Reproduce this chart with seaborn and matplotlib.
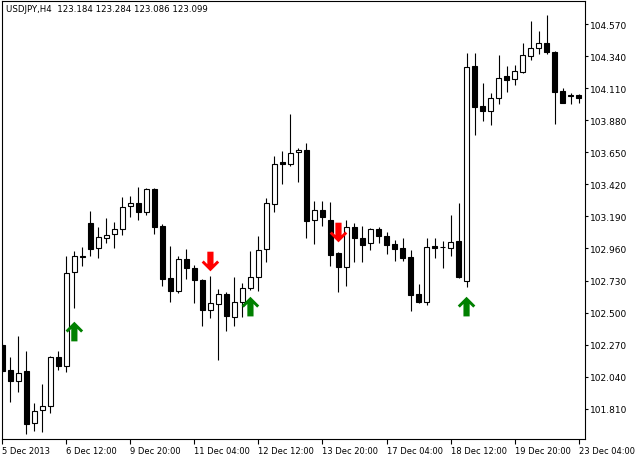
import matplotlib
matplotlib.use('Agg')
import numpy as np
import pandas as pd
import matplotlib.pyplot as plt
import seaborn as sns
from matplotlib.path import Path

# USDJPY H4 candles
opens = [102.267, 102.088, 102.009, 102.081, 101.708, 101.801, 101.830, 102.181, 102.117, 102.791,
         102.906, 103.142, 102.963, 103.035, 103.064, 103.099, 103.264, 103.286, 103.221, 103.386,
         103.121, 102.748, 102.655, 102.884, 102.820, 102.734, 102.518, 102.561, 102.633, 102.468,
         102.576, 102.676, 102.755, 102.956, 103.279, 103.580, 103.566, 103.652, 103.666, 103.164,
         103.236, 103.164, 102.927, 102.827, 103.114, 103.035, 102.999, 103.099, 103.049, 102.992,
         102.963, 102.899, 102.633, 102.576, 102.975, 102.970, 102.963, 103.013, 102.726, 104.269,
         103.982, 103.946, 104.039, 104.197, 104.176, 104.226, 104.341, 104.398, 104.434, 104.369,
         104.089, 104.061, 104.061]
highs = [102.282, 102.181, 102.332, 102.224, 101.851, 101.987, 102.188, 102.224, 102.906, 102.942,
         102.970, 103.229, 103.114, 103.178, 103.150, 103.329, 103.336, 103.401, 103.394, 103.394,
         103.135, 102.977, 102.906, 102.956, 102.841, 102.741, 102.762, 102.669, 102.647, 102.755,
         102.712, 102.942, 103.049, 103.322, 103.623, 103.659, 103.924, 103.681, 103.716, 103.300,
         103.300, 103.293, 102.934, 103.164, 103.142, 103.121, 103.107, 103.114, 103.078, 103.021,
         103.035, 102.949, 102.705, 103.035, 103.035, 103.013, 103.200, 103.286, 104.362, 104.362,
         104.147, 104.075, 104.348, 104.269, 104.276, 104.434, 104.592, 104.520, 104.635, 104.376,
         104.111, 104.075, 104.068]
lows = [102.066, 101.858, 101.930, 101.629, 101.650, 101.643, 101.779, 102.088, 102.074, 102.533,
        102.834, 102.906, 102.891, 102.999, 102.963, 103.056, 103.186, 103.164, 103.200, 103.064,
        102.690, 102.576, 102.640, 102.741, 102.569, 102.404, 102.461, 102.160, 102.368, 102.404,
        102.468, 102.662, 102.655, 102.863, 103.221, 103.422, 103.551, 103.437, 103.035, 102.992,
        103.121, 102.834, 102.647, 102.690, 102.863, 102.863, 102.949, 102.999, 102.920, 102.870,
        102.870, 102.511, 102.570, 102.554, 102.891, 102.820, 102.906, 102.750, 102.683, 103.774,
        103.874, 103.846, 103.996, 104.082, 104.132, 104.219, 104.312, 104.355, 104.355, 103.853,
        104.000, 103.996, 104.003]
closes = [102.081, 102.009, 102.066, 101.700, 101.794, 101.830, 102.181, 102.117, 102.784, 102.906,
          102.895, 102.956, 103.042, 103.056, 103.099, 103.257, 103.286, 103.221, 103.386, 103.114,
          102.741, 102.655, 102.884, 102.820, 102.734, 102.518, 102.569, 102.633, 102.475, 102.576,
          102.676, 102.755, 102.949, 103.286, 103.566, 103.569, 103.645, 103.666, 103.157, 103.236,
          103.186, 102.913, 102.827, 103.114, 103.035, 102.985, 103.099, 103.049, 102.985, 102.956,
          102.891, 102.626, 102.576, 102.970, 102.965, 102.967, 103.006, 102.755, 104.262, 103.975,
          103.946, 104.039, 104.183, 104.168, 104.233, 104.348, 104.398, 104.434, 104.369, 104.082,
          104.003, 104.050, 104.039]

# signal arrows: bar index and arrow tip price
buy_idx = [9, 31, 58]
buy_price = [102.432, 102.611, 102.611]
sell_idx = [26, 42]
sell_price = [102.798, 103.006]

date_ticks = [0, 8, 16, 24, 32, 40, 48, 56, 64, 72]
date_labels = ['5 Dec 2013', '6 Dec 12:00', '9 Dec 20:00', '11 Dec 04:00', '12 Dec 12:00',
               '13 Dec 20:00', '17 Dec 04:00', '18 Dec 12:00', '19 Dec 20:00', '23 Dec 04:00']
price_ticks = [101.810, 102.040, 102.270, 102.500, 102.730, 102.960, 103.190,
               103.420, 103.650, 103.880, 104.110, 104.340, 104.570]

df = pd.DataFrame({'open': opens, 'high': highs, 'low': lows, 'close': closes})
df['x'] = np.arange(len(df))
df['bull'] = df['close'] >= df['open']

sns.set_style('white')
plt.rcParams['font.family'] = ['DejaVu Sans']

fig = plt.figure(figsize=(6.37, 4.60), dpi=100)
ax = fig.add_axes([2 / 637, 20 / 460, 583 / 637, 438 / 460])

# wicks
ax.vlines(df['x'], df['low'], df['high'], color='black', linewidth=0.8, zorder=1)
# bodies
body_lo = df[['open', 'close']].min(axis=1)
body_h = (df['close'] - df['open']).abs().clip(lower=0.004)
ax.bar(df['x'], body_h, bottom=body_lo, width=0.55,
       color=np.where(df['bull'], 'white', 'black'), edgecolor='black',
       linewidth=0.8, zorder=2)

# arrow marker (up); height normalised to 1
pts = np.array([[0, 9.5], [8.5, 1.0], [6.5, -1.0], [3, 2.5], [3, -9.5],
                [-3, -9.5], [-3, 2.5], [-6.5, -1.0], [-8.5, 1.0], [0, 9.5]]) / 19.0
up_arrow = Path(pts, closed=True)
down_arrow = Path(pts * [1, -1], closed=True)
half_h = 9.5 * (104.735 - 101.593) / 438

buys = pd.DataFrame({'x': buy_idx, 'y': np.array(buy_price) - half_h})
sells = pd.DataFrame({'x': sell_idx, 'y': np.array(sell_price) + half_h})
sns.scatterplot(data=buys, x='x', y='y', marker=up_arrow, s=200, color='#008000',
                edgecolor='none', linewidth=0, ax=ax, zorder=3, legend=False)
sns.scatterplot(data=sells, x='x', y='y', marker=down_arrow, s=200, color='#ff0000',
                edgecolor='none', linewidth=0, ax=ax, zorder=3, legend=False)

ax.set_xlim(-0.04, 72.8)
ax.set_ylim(101.593, 104.735)
ax.set_xlabel('')
ax.set_ylabel('')

ax.yaxis.tick_right()
ax.set_yticks(price_ticks)
ax.set_yticklabels([f'{p:.3f}' for p in price_ticks])
ax.set_xticks(date_ticks)
ax.set_xticklabels(date_labels, ha='left')
ax.tick_params(axis='y', which='both', right=True, length=2.5, width=0.8, pad=1,
               labelsize=6.5, colors='black', direction='out')
ax.tick_params(axis='x', which='both', bottom=True, length=3.5, width=0.8, pad=1.5,
               labelsize=6.0, colors='black', direction='out')
for sp in ax.spines.values():
    sp.set_visible(True)
    sp.set_color('black')
    sp.set_linewidth(0.8)

fig.text(6 / 637, 1 - 10 / 460, 'USDJPY,H4  123.184 123.284 123.086 123.099',
         fontsize=6.2, va='center', ha='left', color='black')

fig.savefig('out.png', dpi=100, facecolor='white')
